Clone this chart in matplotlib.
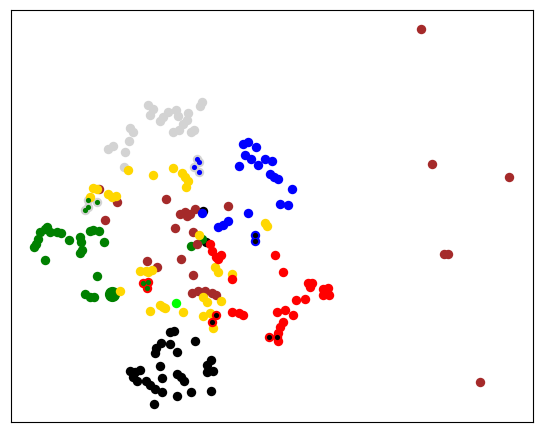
import matplotlib
matplotlib.use("Agg")
import matplotlib.pyplot as plt

# embedding coordinates per group (x, y; y grows downward)
gray_x = [148, 150, 153, 160, 163, 168, 176, 178, 188, 187, 183, 202, 200, 173, 179, 191, 194, 130, 133, 129, 113, 108, 125, 124,
          197, 199, 194, 199, 88, 97, 88, 85]
gray_y = [106, 116, 110, 122, 118, 113, 111, 117, 114, 121, 125, 103, 107, 133, 131, 133, 131, 129, 133, 142, 147, 150, 153, 168,
          160, 163, 168, 173, 201, 203, 208, 211]

blue_x = [243, 248, 256, 245, 251, 258, 239, 265, 272, 270, 274, 278, 292, 280, 288, 248, 218, 223, 228, 202, 255, 255]
blue_y = [145, 143, 148, 156, 160, 166, 167, 160, 162, 175, 178, 180, 190, 205, 206, 214, 228, 226, 222, 214, 236, 242]

brown_x = [421, 432, 509, 444, 448, 480, 99, 117, 105, 166, 180, 185, 190, 195, 187, 228, 175, 193, 197, 147, 157, 181,
           193, 192, 198, 205, 212, 216]
brown_y = [30, 165, 178, 255, 255, 383, 190, 203, 221, 200, 215, 213, 215, 210, 217, 207, 229, 233, 245, 262, 268, 260,
           276, 294, 292, 292, 294, 296]

gold_x = [128, 153, 173, 182, 185, 188, 186, 93, 97, 90, 108, 112, 116, 265, 267, 199, 140, 146, 152, 148, 120, 150, 160,
          165, 183, 203, 207, 215, 218, 232, 221, 203, 210, 213, 163]
gold_y = [171, 176, 169, 174, 178, 182, 188, 189, 190, 198, 195, 198, 197, 224, 227, 236, 272, 272, 271, 273, 292, 312, 306,
          309, 313, 298, 303, 268, 273, 275, 302, 317, 314, 329, 308]

green_x = [47, 40, 45, 50, 57, 61, 38, 36, 34, 45, 69, 80, 81, 90, 93, 99, 104, 82, 80, 97, 85, 90, 94, 191, 202]
green_y = [228, 233, 230, 233, 233, 234, 240, 245, 248, 261, 241, 238, 243, 232, 231, 232, 243, 251, 254, 277, 295, 298,
           298, 247, 240]
green_big_x = [112]
green_big_y = [295]

red_x = [210, 212, 216, 221, 218, 275, 283, 232, 308, 310, 312, 323, 328, 323, 329, 305, 296, 232, 239, 243, 277, 285, 293,
         283, 280, 278, 278, 216, 212, 269, 277, 143, 148, 147]
red_y = [245, 252, 258, 256, 260, 256, 273, 280, 284, 288, 284, 290, 289, 296, 296, 300, 301, 313, 314, 316, 313, 311, 316,
         323, 328, 334, 342, 316, 323, 338, 338, 284, 283, 289]

black_x = [170, 174, 161, 170, 156, 155, 177, 195, 160, 130, 135, 140, 133, 137, 146, 150, 155, 162, 162, 177, 181, 184,
           177, 191, 207, 211, 207, 213, 211, 154, 206, 203]
black_y = [333, 332, 344, 345, 349, 354, 353, 342, 367, 372, 373, 371, 378, 382, 382, 386, 390, 393, 379, 375, 378, 382,
           397, 393, 366, 361, 373, 372, 392, 405, 243, 212]

lime_x = [176]
lime_y = [304]

# small points drawn on top of others
small_blue_x = [197, 199, 194, 199]
small_blue_y = [160, 163, 168, 173]
small_green_x = [88, 97, 88, 85, 143, 148, 147]
small_green_y = [201, 203, 208, 211, 284, 283, 289]
small_black_x = [255, 255, 216, 212, 269, 277]
small_black_y = [236, 242, 316, 323, 338, 338]

fig = plt.figure(figsize=(5.44, 4.35), dpi=100)
ax = fig.add_axes([11 / 544, 12 / 435, 522 / 544, 412 / 435])

s = 46
ax.scatter(black_x, black_y, s=s, c="black", linewidths=0)
ax.scatter(gray_x, gray_y, s=s, c="lightgray", linewidths=0)
ax.scatter(green_x, green_y, s=s, c="green", linewidths=0)
ax.scatter(green_big_x, green_big_y, s=120, c="green", linewidths=0)
ax.scatter(brown_x, brown_y, s=s, c="brown", linewidths=0)
ax.scatter(gold_x, gold_y, s=s, c="gold", linewidths=0)
ax.scatter(blue_x, blue_y, s=s, c="blue", linewidths=0)
ax.scatter(red_x, red_y, s=s, c="red", linewidths=0)
ax.scatter(lime_x, lime_y, s=s, c="lime", linewidths=0)

ax.scatter(small_blue_x, small_blue_y, s=14, c="blue", linewidths=0)
ax.scatter(small_green_x, small_green_y, s=14, c="green", linewidths=0)
ax.scatter(small_black_x, small_black_y, s=14, c="black", linewidths=0)

ax.set_xlim(11, 533)
ax.set_ylim(423, 11)
ax.set_xticks([])
ax.set_yticks([])

fig.savefig("out.png", dpi=100)
